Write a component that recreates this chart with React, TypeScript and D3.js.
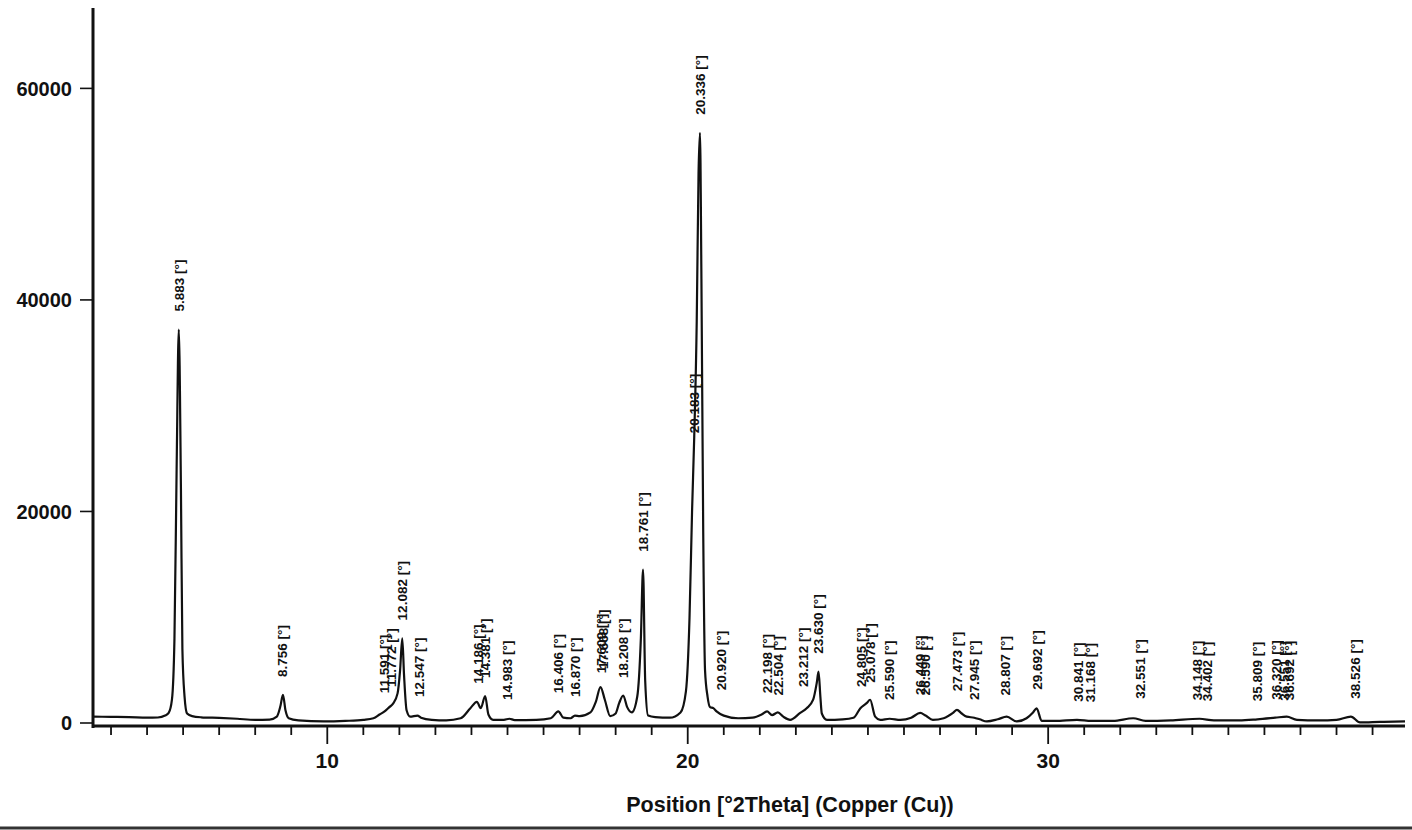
import React from 'react';
import * as d3 from 'd3';

const profileTheta = [
  3.5, 4.0, 4.5, 5.0, 5.3, 5.5, 5.6, 5.69, 5.76, 5.82, 5.88, 5.94, 5.98, 6.04, 6.11, 6.25, 6.5, 7.0, 7.5, 8.0,
  8.4, 8.6, 8.7, 8.77, 8.84, 8.93, 9.2, 9.9, 10.5, 11.0, 11.28, 11.45, 11.59, 11.72, 11.82, 11.95, 12.02, 12.08, 12.13, 12.2,
  12.3, 12.5, 12.6, 12.9, 13.3, 13.7, 13.97, 14.15, 14.26, 14.38, 14.47, 14.6, 14.9, 15.05, 15.2, 15.8, 16.2, 16.41, 16.55, 16.75,
  16.87, 17.0, 17.3, 17.45, 17.58, 17.7, 17.85, 18.0, 18.1, 18.21, 18.32, 18.45, 18.6, 18.7, 18.76, 18.82, 18.9, 19.1, 19.5, 19.8,
  19.95, 20.05, 20.12, 20.18, 20.25, 20.3, 20.34, 20.38, 20.43, 20.48, 20.55, 20.62, 20.71, 20.8, 21.0, 21.4, 21.8, 22.05, 22.2, 22.34,
  22.5, 22.65, 22.84, 23.12, 23.3, 23.48, 23.58, 23.63, 23.68, 23.72, 23.86, 24.3, 24.6, 24.79, 24.97, 25.06, 25.2, 25.34, 25.6, 25.9,
  26.2, 26.45, 26.6, 26.8, 27.1, 27.36, 27.47, 27.6, 27.74, 27.95, 28.1, 28.3, 28.6, 28.85, 29.13, 29.4, 29.58, 29.68, 29.82, 30.2,
  30.8, 31.2, 31.8, 32.36, 32.7, 33.4, 34.2, 34.6, 35.3, 35.8, 36.3, 36.62, 36.9, 37.5, 38.0, 38.4, 38.65, 39.2, 39.9,
];
const profileCounts = [
  600, 580, 560, 500, 520, 700, 950, 2200, 8000, 24000, 37200, 22000, 7000, 2500, 900, 650, 540, 480, 400, 300,
  320, 600, 1600, 2650, 1200, 450, 250, 150, 200, 300, 450, 800, 1100, 1500, 1800, 2800, 5000, 8000, 4500, 1200,
  600, 700, 500, 300, 250, 450, 1400, 2000, 1400, 2550, 800, 300, 300, 400, 280, 300, 450, 1100, 500, 450,
  700, 650, 1000, 2000, 3400, 2200, 650, 900, 1900, 2600, 1500, 1000, 2500, 8000, 14500, 4000, 700, 550, 500, 1000,
  3000, 10000, 20000, 27000, 38000, 52000, 55800, 42000, 18000, 5000, 2500, 1500, 1400, 1100, 700, 450, 500, 800, 1100, 750,
  1000, 600, 300, 950, 1400, 2200, 3800, 4850, 2500, 900, 300, 350, 500, 1400, 1900, 2200, 600, 300, 400, 300,
  500, 950, 700, 300, 450, 950, 1250, 900, 600, 500, 350, 150, 350, 600, 150, 450, 1000, 1380, 200, 200,
  300, 200, 200, 450, 200, 250, 400, 250, 250, 350, 500, 600, 300, 250, 300, 600, 50, 100, 150,
];

// peak list: position [°2Theta] and the height the label sits on
const peakPositions = [
  5.883, 8.756, 11.591, 11.772, 12.082, 12.547, 14.186, 14.381, 14.983, 16.406, 16.870, 17.609, 17.668, 18.208, 18.761,
  20.183, 20.336, 20.920, 22.198, 22.504, 23.212, 23.630, 24.805, 25.078, 25.590, 26.449, 26.590, 27.473, 27.945, 28.807,
  29.692, 30.841, 31.168, 32.551, 34.148, 34.402, 35.809, 36.320, 36.551, 36.692, 38.526,
];
const peakHeights = [
  37200, 2650, 1100, 1700, 8000, 760, 2000, 2550, 470, 1100, 760, 3000, 3400, 2550, 14500,
  25700, 55800, 1400, 1100, 900, 1700, 4850, 1700, 2100, 470, 950, 900, 1300, 470, 900,
  1450, 300, 250, 600, 450, 350, 350, 500, 400, 450, 600,
];

const yTicks = [0, 20000, 40000, 60000];
const xMajor = [10, 20, 30];
const xMinor = d3.range(4, 40);

const W = 1412;
const H = 830;
const left = 93;
const right = 1405;
const top = 8;
const zeroY = 723;
const axisY = 726;

export default function App() {
  const x = d3.scaleLinear().domain([3.5, 39.9]).range([left, right]);
  const y = d3.scaleLinear().domain([0, 67600]).range([zeroY, top]);

  const pts: [number, number][] = profileTheta.map((t, i) => [t, profileCounts[i]]);
  const line = d3
    .line<[number, number]>()
    .x(d => x(d[0]))
    .y(d => y(d[1]))
    .curve(d3.curveMonotoneX);

  const font = "'Liberation Sans', Arial, sans-serif";

  return (
    <svg
      width={W}
      height={H}
      viewBox={`0 0 ${W} ${H}`}
      style={{ position: 'absolute', left: 0, top: 0, background: '#fff', fontFamily: font }}
    >
      {/* trace */}
      <path d={line(pts) || ''} fill="none" stroke="#111" strokeWidth={2.2} strokeLinejoin="round" />

      {/* peak labels */}
      {peakPositions.map((p, i) => {
        const px = x(p);
        const py = y(peakHeights[i]) - 18;
        return (
          <text
            key={'pk' + i}
            transform={`translate(${px},${py}) rotate(-90)`}
            dy="0.35em"
            fontSize={13.5}
            fontWeight="bold"
            fill="#111"
          >
            {p.toFixed(3) + ' [°]'}
          </text>
        );
      })}

      {/* y axis */}
      <line x1={left} x2={left} y1={top} y2={axisY + 2} stroke="#111" strokeWidth={3} />
      {yTicks.map(t => (
        <g key={'y' + t}>
          <line x1={left - 13} x2={left} y1={y(t)} y2={y(t)} stroke="#111" strokeWidth={1.6} />
          <text x={72} y={y(t)} dy="0.36em" textAnchor="end" fontSize={20} fontWeight="bold" fill="#111">
            {t}
          </text>
        </g>
      ))}

      {/* x axis */}
      <line x1={left} x2={right} y1={axisY} y2={axisY} stroke="#111" strokeWidth={3} />
      {xMinor.map(t => (
        <line
          key={'xm' + t}
          x1={x(t)}
          x2={x(t)}
          y1={axisY}
          y2={xMajor.includes(t) ? axisY + 18 : axisY + 9}
          stroke="#111"
          strokeWidth={1.8}
        />
      ))}
      {xMajor.map(t => (
        <text key={'xl' + t} x={x(t)} y={768} textAnchor="middle" fontSize={21} fontWeight="bold" fill="#111">
          {t}
        </text>
      ))}
      <text x={790} y={812} textAnchor="middle" fontSize={21.5} fontWeight="bold" fill="#111">
        Position [°2Theta] (Copper (Cu))
      </text>

      {/* scan edge */}
      <line x1={0} x2={W} y1={828} y2={828} stroke="#333" strokeWidth={3} />
    </svg>
  );
}
